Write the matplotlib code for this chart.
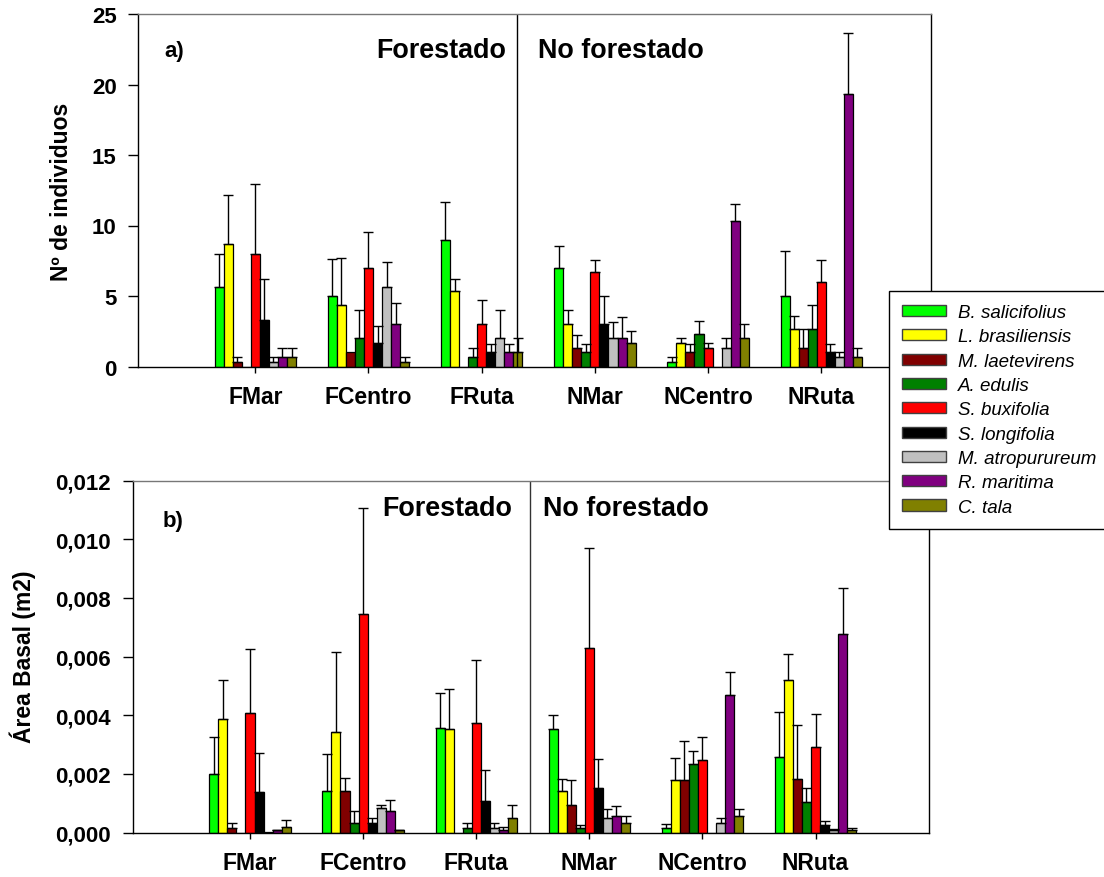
import numpy as np
import matplotlib
matplotlib.use("Agg")
import matplotlib.pyplot as plt
from matplotlib.patches import Patch

plt.rcParams['font.family'] = ['Liberation Sans', 'DejaVu Sans']

sites = ['FMar', 'FCentro', 'FRuta', 'NMar', 'NCentro', 'NRuta']
species = ['B. salicifolius', 'L. brasiliensis', 'M. laetevirens', 'A. edulis',
           'S. buxifolia', 'S. longifolia', 'M. atropurureum', 'R. maritima', 'C. tala']
colors = ['#00FF00', '#FFFF00', '#800000', '#008000', '#FF0000',
          '#000000', '#C0C0C0', '#800080', '#808000']

# numero de individuos (media y error), una fila por especie
ind_mean = [
    [5.67, 5.00, 9.00, 7.00, 0.33, 5.00],
    [8.67, 4.33, 5.33, 3.00, 1.67, 2.67],
    [0.33, 1.00, 0.00, 1.33, 1.00, 1.33],
    [0.00, 2.00, 0.67, 1.00, 2.33, 2.67],
    [8.00, 7.00, 3.00, 6.67, 1.33, 6.00],
    [3.33, 1.67, 1.00, 3.00, 0.00, 1.00],
    [0.33, 5.67, 2.00, 2.00, 1.33, 0.67],
    [0.67, 3.00, 1.00, 2.00, 10.33, 19.33],
    [0.67, 0.33, 1.00, 1.67, 2.00, 0.67],
]
ind_se = [
    [2.31, 2.65, 2.65, 1.53, 0.33, 3.21],
    [3.48, 3.36, 0.88, 1.00, 0.33, 0.88],
    [0.33, 0.00, 0.00, 0.88, 0.58, 1.33],
    [0.00, 2.00, 0.67, 0.58, 0.88, 1.67],
    [4.93, 2.52, 1.73, 0.88, 0.33, 1.53],
    [2.85, 1.20, 0.58, 2.00, 0.00, 0.58],
    [0.33, 1.76, 2.00, 1.15, 0.67, 0.33],
    [0.67, 1.53, 0.58, 1.53, 1.20, 4.33],
    [0.67, 0.33, 1.00, 0.88, 1.00, 0.67],
]

# area basal (m2)
area_mean = [
    [0.00199, 0.00140, 0.00357, 0.00354, 0.00014, 0.00257],
    [0.00388, 0.00343, 0.00352, 0.00143, 0.00178, 0.00519],
    [0.00017, 0.00143, 0.00000, 0.00093, 0.00180, 0.00184],
    [0.00000, 0.00034, 0.00016, 0.00015, 0.00234, 0.00103],
    [0.00409, 0.00746, 0.00375, 0.00630, 0.00248, 0.00290],
    [0.00137, 0.00031, 0.00108, 0.00152, 0.00000, 0.00026],
    [0.00002, 0.00084, 0.00016, 0.00051, 0.00032, 0.00009],
    [0.00007, 0.00072, 0.00010, 0.00056, 0.00470, 0.00676],
    [0.00020, 0.00007, 0.00048, 0.00034, 0.00055, 0.00007],
]
area_se = [
    [0.00127, 0.00126, 0.00119, 0.00045, 0.00016, 0.00153],
    [0.00132, 0.00272, 0.00138, 0.00041, 0.00077, 0.00088],
    [0.00017, 0.00044, 0.00000, 0.00087, 0.00132, 0.00183],
    [0.00000, 0.00038, 0.00018, 0.00009, 0.00044, 0.00050],
    [0.00217, 0.00359, 0.00214, 0.00340, 0.00078, 0.00115],
    [0.00135, 0.00017, 0.00104, 0.00099, 0.00000, 0.00014],
    [0.00000, 0.00011, 0.00018, 0.00029, 0.00019, 0.00002],
    [0.00002, 0.00040, 0.00008, 0.00035, 0.00078, 0.00159],
    [0.00022, 0.00002, 0.00047, 0.00021, 0.00026, 0.00009],
]

ind_ticks = [0, 5, 10, 15, 20, 25]
ind_ticklabels = ['0', '5', '10', '15', '20', '25']
area_ticks = [0, 0.002, 0.004, 0.006, 0.008, 0.010, 0.012]
area_ticklabels = ['0,000', '0,002', '0,004', '0,006', '0,008', '0,010', '0,012']

W, H = 1104, 878
fig = plt.figure(figsize=(W / 100, H / 100), dpi=100)


def box(l, t, r, b):
    return [l / W, 1 - b / H, (r - l) / W, (b - t) / H]


ax1 = fig.add_axes(box(137.7, 15, 930.5, 367.5))
ax2 = fig.add_axes(box(133.3, 481.5, 929.3, 833.5))

x = np.arange(len(sites))
width = 0.08


def draw(ax, means, ses):
    for i, (m, s, c) in enumerate(zip(means, ses, colors)):
        xi = x + (i - 4) * width
        m = np.array(m)
        s = np.array(s)
        ax.bar(xi, m, width, color=c, edgecolor='black', linewidth=0.9, zorder=2)
        k = s > 0
        ax.errorbar(xi[k], m[k], yerr=[np.zeros(k.sum()), s[k]], fmt='none',
                    ecolor='black', elinewidth=1, capsize=3.3, capthick=1, zorder=3)


draw(ax1, ind_mean, ind_se)
draw(ax2, area_mean, area_se)

ax1.set_xlim(-1.039, 5.965)
ax1.set_ylim(0, 25)
ax1.set_yticks(ind_ticks)
ax1.set_yticklabels(ind_ticklabels)
ax1.axvline(2.314, color='black', lw=1)

ax2.set_xlim(-1.032, 6.006)
ax2.set_ylim(0, 0.012)
ax2.set_yticks(area_ticks)
ax2.set_yticklabels(area_ticklabels)
ax2.axvline(2.478, color='#333333', lw=1)

for ax, pad in ((ax1, 8), (ax2, 9.5)):
    ax.set_xticks(x)
    ax.set_xticklabels(sites, fontsize=16.5, fontweight='bold')
    ax.tick_params(axis='x', direction='out', length=4, width=1, pad=9)
    ax.tick_params(axis='y', direction='out', length=7, width=1, pad=pad,
                   labelsize=16)
    for lab in ax.get_yticklabels():
        lab.set_fontweight('bold')
    for sp in ax.spines.values():
        sp.set_linewidth(1)
    ax.spines['top'].set_color('#777777')

fig.text(62 / W, 1 - 192 / H, 'Nº de individuos', rotation=90, ha='center',
         va='center', fontsize=16.5, fontweight='bold')
fig.text(23 / W, 1 - 657 / H, 'Área Basal (m2)', rotation=90, ha='center',
         va='center', fontsize=16.5, fontweight='bold')

fig.text(506 / W, 1 - 58.5 / H, 'Forestado', ha='right', va='baseline',
         fontsize=19.4, fontweight='bold')
fig.text(537.7 / W, 1 - 58.5 / H, 'No forestado', ha='left', va='baseline',
         fontsize=19.4, fontweight='bold')
fig.text(512 / W, 1 - 516 / H, 'Forestado', ha='right', va='baseline',
         fontsize=19.4, fontweight='bold')
fig.text(543 / W, 1 - 516 / H, 'No forestado', ha='left', va='baseline',
         fontsize=19.4, fontweight='bold')
fig.text(164 / W, 1 - 57 / H, 'a)', ha='left', va='baseline',
         fontsize=16, fontweight='bold')
fig.text(163 / W, 1 - 527 / H, 'b)', ha='left', va='baseline',
         fontsize=16, fontweight='bold')

handles = [Patch(facecolor=c, edgecolor='#404040', linewidth=1) for c in colors]
leg = fig.legend(handles, species, loc='upper left',
                 bbox_to_anchor=(888.5 / W, 1 - 292 / H),
                 prop={'style': 'italic', 'size': 13.5}, frameon=True,
                 fancybox=False, edgecolor='black', framealpha=1,
                 handlelength=2.35, handleheight=0.53, handletextpad=0.64,
                 labelspacing=0.39, borderpad=0.7, borderaxespad=0)
leg.get_frame().set_linewidth(1)

fig.savefig('out.png', dpi=100)
